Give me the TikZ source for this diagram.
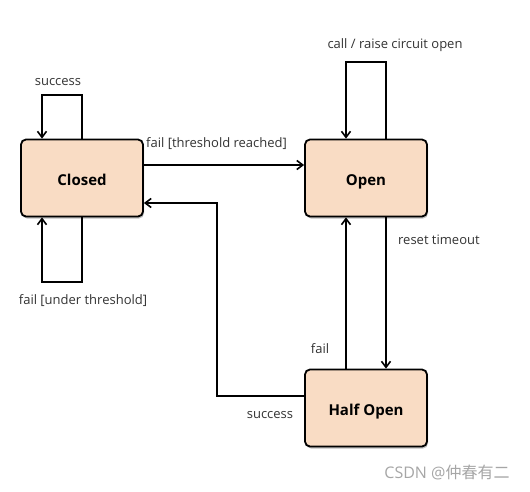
\documentclass[tikz,border=0pt]{standalone}
\usepackage{fontspec}
\setmainfont{Open Sans}
\newfontfamily\cjk{Noto Sans CJK SC}
\usetikzlibrary{arrows.meta,shadows}
\definecolor{boxfill}{HTML}{F9DCC4}
\definecolor{labelgray}{HTML}{333333}
\begin{document}
\begin{tikzpicture}[x=1pt,y=-1pt,
  state/.style={draw=black,line width=1.8pt,fill=boxfill,rounded corners=5pt,
    minimum width=122pt,minimum height=77pt,inner sep=0pt,text height=14pt,text depth=0pt,
    font=\fontsize{15}{18}\selectfont\bfseries,
    drop shadow={shadow xshift=1pt,shadow yshift=-2pt,fill=black,opacity=0.25}},
  conn/.style={line width=1.6pt,-{Straight Barb[length=6pt,width=9pt,line width=1.6pt]}},
  lbl/.style={font=\fontsize{13}{15}\selectfont,text=labelgray,inner sep=0pt}]
\useasboundingbox (0,0) rectangle (530,491);
\fill[white] (0,0) rectangle (530,491);
\node[state] (closed) at (82,178) {Closed};
\node[state] (open) at (366,178) {Open};
\node[state] (half) at (366,408) {Half Open};
% closed self loop top
\coordinate (ct1) at (82,95);
\coordinate (ct2) at (42,95);
\draw[conn] (closed.north) -- (ct1) -- (ct2) -- (closed.north -| ct2);
% closed self loop bottom
\coordinate (cb1) at (82,282);
\coordinate (cb2) at (42,282);
\draw[conn] (closed.south) -- (cb1) -- (cb2) -- (closed.south -| cb2);
% open self loop
\coordinate (ot1) at (386,62);
\coordinate (ot2) at (346,62);
\draw[conn] (open.north -| ot1) -- (ot1) -- (ot2) -- (open.north -| ot2);
% closed -> open
\coordinate (co) at (143,165);
\draw[conn] (closed.east |- co) -- (open.west |- co);
% open -> half (reset timeout)
\coordinate (rt) at (386,300);
\draw[conn] (open.south -| rt) -- (half.north -| rt);
% half -> open (fail)
\coordinate (hf) at (346,300);
\draw[conn] (half.north -| hf) -- (open.south -| hf);
% half -> closed (success)
\coordinate (hs1) at (217,396);
\coordinate (hs2) at (217,203);
\draw[conn] (half.west |- hs1) -- (hs1) -- (hs2) -- (closed.east |- hs2);
% labels
\node[lbl] (l1) at (58,82) {success};
\node[lbl,anchor=west] (l2) at (146,144) {fail [threshold reached]};
\node[lbl] (l3) at (395,45) {call / raise circuit open};
\node[lbl,anchor=west] (l4) at (398,240) {reset timeout};
\node[lbl] (l5) at (83,301) {fail [under threshold]};
\node[lbl] (l6) at (320,349) {fail};
\node[lbl] (l7) at (270,415) {success};
\node[lbl,text=gray!70,font=\fontsize{16}{18}\selectfont] (wm) at (447,472) {CSDN @{\cjk 仲春有二}};
\end{tikzpicture}
\end{document}
